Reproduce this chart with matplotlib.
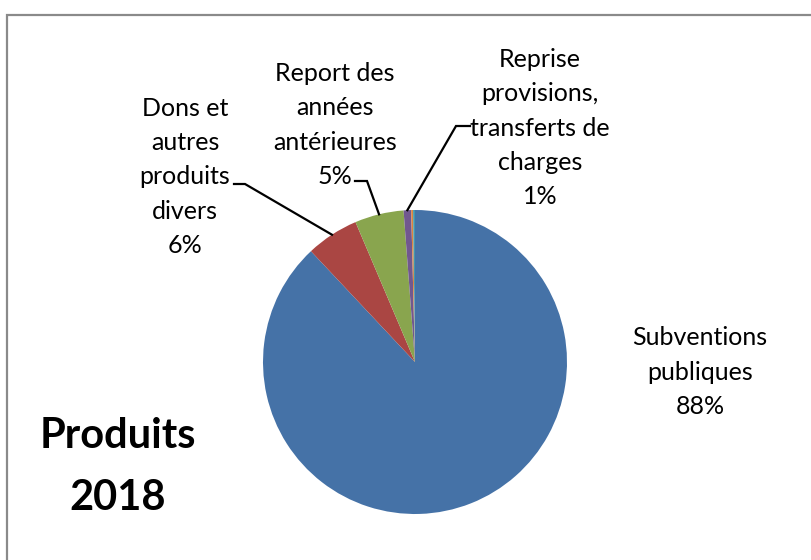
import matplotlib
matplotlib.use("Agg")
import matplotlib.pyplot as plt
from matplotlib.patches import Rectangle
import numpy as np

categories = ["Subventions publiques", "Dons et autres produits divers",
              "Report des années antérieures",
              "Reprise provisions, transferts de charges", "Autre 1", "Autre 2"]
values = [88.0, 5.6, 5.2, 0.8, 0.2, 0.2]
label_texts = ["Subventions\npubliques\n88%", "Dons et\nautres\nproduits\ndivers\n6%",
               "Report des\nannées\nantérieures\n5%",
               "Reprise\nprovisions,\ntransferts de\ncharges\n1%", None, None]
colors = ["#4572A7", "#AA4643", "#89A54E", "#71588F", "#DB843D", "#4198AF"]

W, H = 812, 560
CX, CY, R = 415, 362, 152
FONT = "Lato"

fig = plt.figure(figsize=(W / 100, H / 100), dpi=100)
fig.patch.set_facecolor("white")

# chart frame (extends beyond right/bottom edges)
fig.patches.append(Rectangle((7 / W, -0.1), 1.2, (H - 15) / H + 0.1,
                             transform=fig.transFigure, fill=False,
                             edgecolor="#8a8a8a", linewidth=1.6))

ax = fig.add_axes([(CX - R) / W, (H - CY - R) / H, 2 * R / W, 2 * R / H])
wedges, _ = ax.pie(values, colors=colors, startangle=90, counterclock=False,
                   radius=1.0, wedgeprops=dict(linewidth=0))
ax.set_xlim(-1, 1)
ax.set_ylim(-1, 1)
ax.set_aspect("auto")
ax.axis("off")


def d(px, py):
    return ((px - CX) / R, (CY - py) / R)


# label positions (pixel centres) and leader line anchors
label_pos = {0: (700, 372), 1: (185, 177), 2: (335, 125), 3: (540, 128)}
leaders = {1: [(234, 184), (245, 184)], 2: [(355, 181), (367, 181)],
           3: [(470, 126), (456, 126)]}

for i, txt in enumerate(label_texts):
    if txt is None:
        continue
    x, y = d(*label_pos[i])
    ax.text(x, y, txt, ha="center", va="center", fontsize=18,
            family=FONT, linespacing=1.6, color="black", clip_on=False)
    if i in leaders:
        w = wedges[i]
        mid = np.deg2rad((w.theta1 + w.theta2) / 2)
        ex, ey = np.cos(mid), np.sin(mid)
        pts = [d(*p) for p in leaders[i]] + [(ex, ey)]
        ax.plot([p[0] for p in pts], [p[1] for p in pts], color="black",
                lw=1.6, clip_on=False, solid_joinstyle="miter")

fig.text(118 / W, 1 - 467 / H, "Produits\n2018", ha="center", va="center",
         fontsize=30, fontweight="bold", family=FONT, linespacing=1.76)

fig.savefig("out.png", dpi=100)
